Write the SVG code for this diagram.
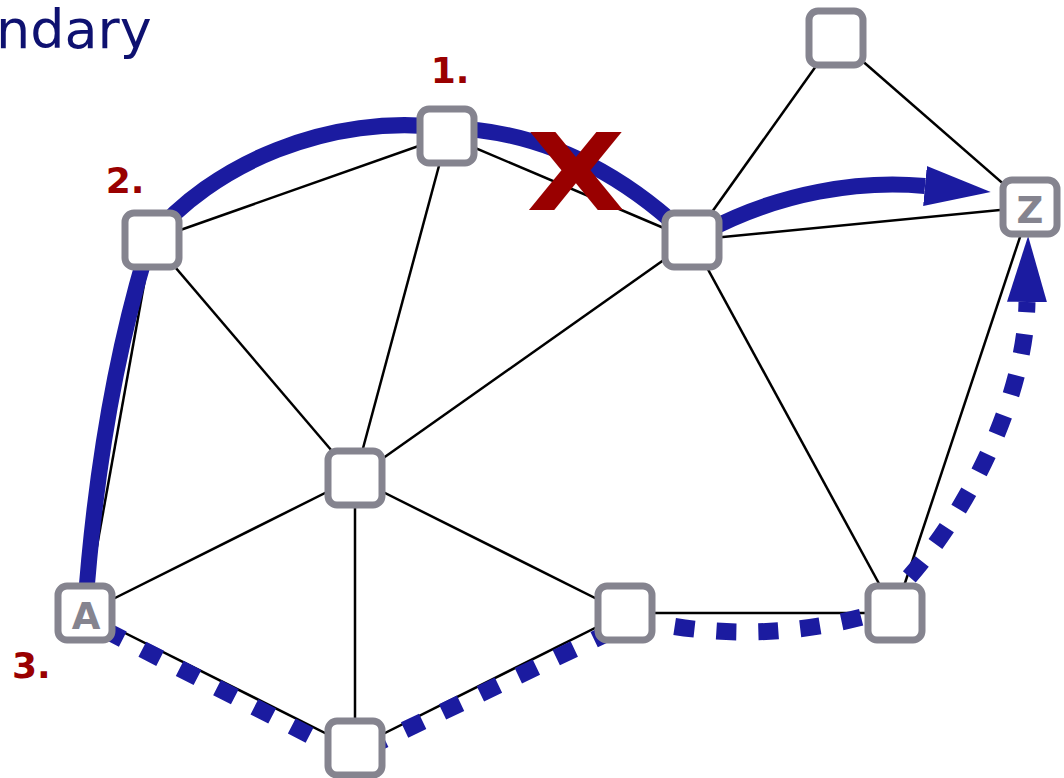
<svg xmlns="http://www.w3.org/2000/svg" width="1064" height="778" viewBox="0 0 1064 778">
  <style>
    .edge { stroke: #000; stroke-width: 2.5; fill: none; }
    .route { stroke: #1b1ba0; stroke-width: 16; fill: none; }
    .alt { stroke: #1b1ba0; stroke-width: 17; fill: none; stroke-dasharray: 20 22; }
    .box { fill: #fff; stroke: #85848f; stroke-width: 7; }
    .tag { font-family: "DejaVu Sans", Verdana, sans-serif; font-weight: bold; fill: #85848f; text-anchor: middle; }
    .step { font-family: "DejaVu Sans", Verdana, sans-serif; font-weight: bold; font-size: 36px; fill: #990000; }
  </style>
  <defs>
    <marker id="head" markerUnits="userSpaceOnUse" markerWidth="70" markerHeight="42" viewBox="0 0 70 42" refX="0" refY="21" orient="auto">
      <path d="M0,1 L66,21 L0,41 z" fill="#1b1ba0"/>
    </marker>
  </defs>

  <rect width="1064" height="778" fill="#fff"/>

  <text x="-4" y="48" font-family="DejaVu Sans, Verdana, sans-serif" font-size="54" fill="#0e1170">ndary</text>

  <g id="connectors">
    <line class="edge" x1="152" y1="240" x2="447" y2="136"/>
    <line class="edge" x1="447" y1="136" x2="692" y2="240"/>
    <line class="edge" x1="447" y1="136" x2="355" y2="478"/>
    <line class="edge" x1="152" y1="240" x2="85" y2="613"/>
    <line class="edge" x1="152" y1="240" x2="355" y2="478"/>
    <line class="edge" x1="692" y1="240" x2="355" y2="478"/>
    <line class="edge" x1="692" y1="240" x2="1030" y2="207"/>
    <line class="edge" x1="692" y1="240" x2="836" y2="38"/>
    <line class="edge" x1="836" y1="38" x2="1030" y2="207"/>
    <line class="edge" x1="692" y1="240" x2="895" y2="613"/>
    <line class="edge" x1="1030" y1="207" x2="895" y2="613"/>
    <line class="edge" x1="355" y1="478" x2="85" y2="613"/>
    <line class="edge" x1="355" y1="478" x2="355" y2="748"/>
    <line class="edge" x1="355" y1="478" x2="625" y2="613"/>
    <line class="edge" x1="85" y1="613" x2="355" y2="748"/>
    <line class="edge" x1="355" y1="748" x2="625" y2="613"/>
    <line class="edge" x1="625" y1="613" x2="895" y2="613"/>

    <!-- first route: A up over the top to the middle-right node -->
    <path class="route" d="M85 610 Q100 400 150 240 C210 165 330 112 447 128 C540 130 620 170 692 240"/>
    <path class="route" d="M705 232 C780 192 860 180 925 186" marker-end="url(#head)"/>

    <!-- alternative route along the bottom -->
    <path class="alt" d="M105 630 L350 756 L610 632 C630 625 640 622 650 622 Q760 645 870 615 C940 560 1025 420 1027 302" marker-end="url(#head)"/>
  </g>

  <g id="node-1"><rect class="box" x="420" y="109" width="54" height="54" rx="9"/></g>
  <g id="node-2"><rect class="box" x="125" y="213" width="54" height="54" rx="9"/></g>
  <g id="node-a">
    <rect class="box" x="58" y="586" width="54" height="54" rx="9"/>
    <text class="tag" x="86" y="629" font-size="37">A</text>
  </g>
  <g id="node-bottom"><rect class="box" x="328" y="721" width="54" height="54" rx="9"/></g>
  <g id="node-center"><rect class="box" x="328" y="451" width="54" height="54" rx="9"/></g>
  <g id="node-lower-mid"><rect class="box" x="598" y="586" width="54" height="54" rx="9"/></g>
  <g id="node-lower-right"><rect class="box" x="868" y="586" width="54" height="54" rx="9"/></g>
  <g id="node-mid-right"><rect class="box" x="665" y="213" width="54" height="54" rx="9"/></g>
  <g id="node-top-right"><rect class="box" x="809" y="11" width="54" height="54" rx="9"/></g>
  <g id="node-z">
    <rect class="box" x="1003" y="180" width="54" height="54" rx="9"/>
    <text class="tag" x="1030" y="223" font-size="37">Z</text>
  </g>

  <text class="step" x="450" y="83" text-anchor="middle">1.</text>
  <text class="step" x="125" y="193" text-anchor="middle">2.</text>
  <text class="step" x="12" y="678">3.</text>

  <text transform="translate(576,210) scale(1.2,1)" text-anchor="middle" font-family="DejaVu Sans, Verdana, sans-serif" font-weight="bold" font-size="107" fill="#990000">X</text>
</svg>
